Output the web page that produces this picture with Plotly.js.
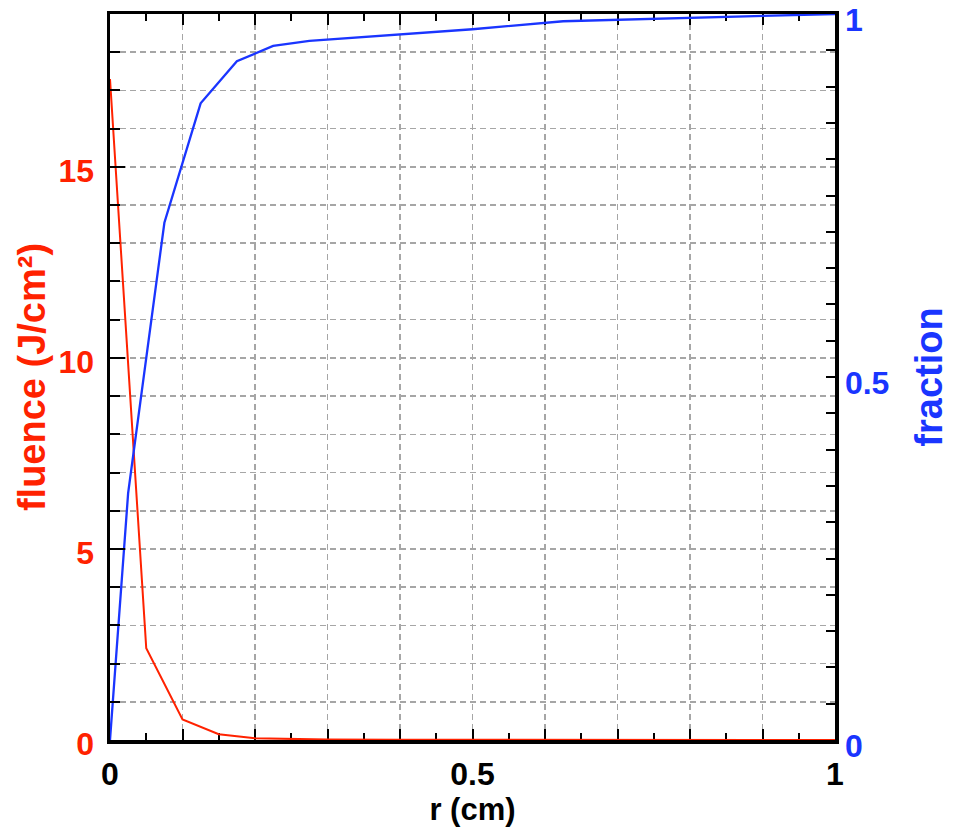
<!DOCTYPE html>
<html>
<head>
<meta charset="utf-8">
<script src="https://cdn.plot.ly/plotly-3.0.1.min.js"></script>
<style>
  html, body { margin: 0; padding: 0; background: #ffffff; }
  #chart { width: 957px; height: 833px; }
</style>
</head>
<body>
<div id="chart"></div>
<script>
// Radial fluence profile (left axis) and cumulative energy fraction (right axis)
const rFluence = [0, 0.05, 0.1, 0.15, 0.2, 0.25, 0.3, 0.4, 0.5, 1.0];
const fluence  = [17.3, 2.4, 0.54, 0.15, 0.045, 0.02, 0.01, 0.005, 0.003, 0.001];

const rFraction = [0, 0.025, 0.075, 0.125, 0.175, 0.225, 0.275, 0.5, 0.625, 1.0];
const fraction  = [0, 0.34, 0.7125, 0.877, 0.935, 0.956, 0.963, 0.979, 0.99, 1.0];

// Tick labels
const xTickVals = [0, 0.1, 0.2, 0.3, 0.4, 0.5, 0.6, 0.7, 0.8, 0.9, 1.0];
const xTickText = ['0', '', '', '', '', '0.5', '', '', '', '', '1'];
const fracTickVals = [0, 0.05, 0.1, 0.15, 0.2, 0.25, 0.3, 0.35, 0.4, 0.45, 0.5,
                      0.55, 0.6, 0.65, 0.7, 0.75, 0.8, 0.85, 0.9, 0.95, 1.0];
const fracTickText = ['0', '', '', '', '', '', '', '', '', '', '0.5',
                      '', '', '', '', '', '', '', '', '', '1'];

const RED = '#ff2200';
const BLUE = '#1a35ff';
const FONT = 'Liberation Sans, Arial, Helvetica, sans-serif';
const GRID = '#a6a6a6';
const DASH = '6px,4px';

const traces = [
  {
    x: rFluence, y: fluence, type: 'scatter', mode: 'lines',
    line: { color: RED, width: 2 }, yaxis: 'y', hoverinfo: 'skip'
  },
  {
    x: rFraction, y: fraction, type: 'scatter', mode: 'lines',
    line: { color: BLUE, width: 2.3 }, yaxis: 'y2', hoverinfo: 'skip'
  }
];

const layout = {
  width: 957, height: 833,
  margin: { l: 110, r: 122, t: 14, b: 93 },
  paper_bgcolor: '#ffffff', plot_bgcolor: '#ffffff',
  showlegend: false,
  font: { family: FONT, color: '#000000' },
  xaxis: {
    range: [0, 1], tickmode: 'array', tickvals: xTickVals, ticktext: xTickText,
    ticks: 'inside', ticklen: 11, tickwidth: 2, tickcolor: '#000000',
    showline: true, linewidth: 3.5, linecolor: '#000000', mirror: 'ticks',
    showgrid: true, gridcolor: GRID, gridwidth: 1.6, griddash: DASH,
    zeroline: false, layer: 'below traces',
    minor: { tickmode: 'linear', tick0: 0, dtick: 0.05, ticks: 'inside', ticklen: 7,
             tickwidth: 2, tickcolor: '#000000', showgrid: false },
    tickfont: { family: FONT, size: 32, color: '#000000', weight: 'bold' },
    ticklabelstandoff: 3,
    ticklabeloverflow: 'allow',
    title: { text: 'r (cm)', font: { family: FONT, size: 31, color: '#000000', weight: 'bold' }, standoff: 0 },
    automargin: false
  },
  yaxis: {
    range: [0, 19], tickmode: 'linear', tick0: 0, dtick: 5,
    ticks: 'inside', ticklen: 15, tickwidth: 2, tickcolor: '#000000',
    showline: true, linewidth: 3.5, linecolor: '#000000', mirror: false,
    showgrid: true, gridcolor: GRID, gridwidth: 1.6, griddash: DASH,
    zeroline: false,
    minor: { tickmode: 'linear', tick0: 0, dtick: 1, ticks: 'inside', ticklen: 10,
             tickwidth: 2, tickcolor: '#000000', showgrid: true,
             gridcolor: GRID, gridwidth: 1.6, griddash: DASH },
    tickfont: { family: FONT, size: 32, color: RED, weight: 'bold' },
    ticklabelstandoff: 6,
    ticklabelshift: 4,
    ticklabeloverflow: 'allow',
    title: { text: 'fluence (J/cm²)', font: { family: FONT, size: 38, color: RED, weight: 'bold' }, standoff: 2 },
    automargin: false
  },
  yaxis2: {
    overlaying: 'y', side: 'right', anchor: 'x',
    range: [0, 1], tickmode: 'array', tickvals: fracTickVals, ticktext: fracTickText,
    ticks: 'inside', ticklen: 9, tickwidth: 2, tickcolor: '#000000',
    showline: true, linewidth: 3.5, linecolor: '#000000',
    showgrid: false, zeroline: false,
    tickfont: { family: FONT, size: 32, color: BLUE, weight: 'bold' },
    ticklabelshift: 6,
    ticklabeloverflow: 'allow',
    title: { text: 'fraction', font: { family: FONT, size: 38, color: BLUE, weight: 'bold' }, standoff: 28 },
    automargin: false
  }
};

Plotly.newPlot('chart', traces, layout, { staticPlot: true, displayModeBar: false });
</script>
</body>
</html>
